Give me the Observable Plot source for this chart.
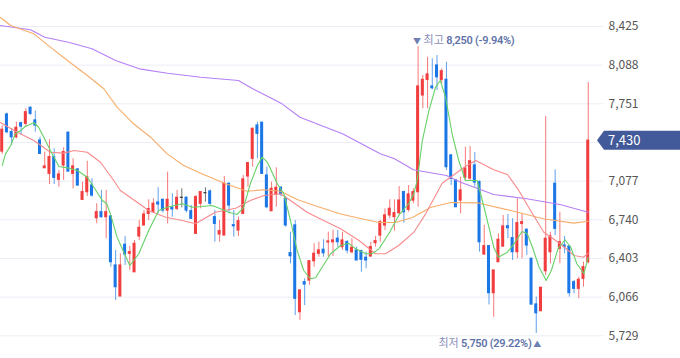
<!DOCTYPE html>
<html><head><meta charset="utf-8">
<script src="https://cdn.jsdelivr.net/npm/d3@7"></script>
<script src="https://cdn.jsdelivr.net/npm/@observablehq/plot@0.6"></script>
<style>
body{margin:0;background:#fff;}
#chart{width:680px;height:358px;}
</style></head><body><div id="chart"></div>
<script>
// ---- data ----
const opens = [7335,7658,7504,7460,7582,7577,7716,7606,7431,7190,
7141,7286,7089,7214,7499,7141,7179,6914,6981,7039,
6754,6806,6763,6769,6342,6072,6522,6444,6283,6595,
6691,6792,6806,6891,6914,6821,6845,6836,6932,6932,
6815,6618,6880,6972,6987,6763,6612,6603,7054,6693,
6647,6792,7118,7272,7562,7586,7126,6815,6961,7019,
6923,6449,6691,5935,6196,6211,6379,6444,6479,6543,
6545,6575,6502,6545,6458,6473,6467,6409,6420,6537,
6603,6691,6778,6763,6798,6981,6827,6908,6981,7824,
7960,7902,8085,7960,7960,7301,7083,6908,7109,7100,
7214,7068,6438,6510,6101,6371,6507,6684,6580,6458,
6705,6653,6400,6002,5944,6292,6458,7054,6487,6516,
6507,6196,6139,6226,6371];
const highs = [7560,7670,7536,7591,7591,7708,7725,7687,7460,7330,
7437,7359,7170,7368,7505,7272,7185,7068,7251,7098,
6880,6996,6996,6775,6473,6444,6595,6507,6560,6734,
6821,6914,6923,7019,6920,7155,6967,6996,7010,6940,
6865,6952,6985,7019,7000,6821,6734,7118,7060,6821,
6763,7126,7240,7540,7591,7590,7199,7068,7193,7030,
6943,6632,6734,6130,6226,6385,6531,6545,6566,6632,
6650,6647,6630,6560,6575,6502,6475,6458,6545,6595,
6734,6836,6914,6914,7030,6990,7039,7010,8250,7998,
8157,8143,8172,8056,8114,7310,7090,7112,7373,7379,
7327,7080,6691,6515,6300,6618,6778,6786,6749,6923,
6792,6660,6405,6066,6153,7641,6632,7176,6806,6595,
6516,6211,6240,6371,7937];
const lows = [7310,7490,7388,7446,7475,7547,7650,7504,7315,7190,
7048,7048,7024,7083,7155,7010,7035,6908,6943,6937,
6705,6755,6575,6327,6037,6072,6342,6298,6283,6560,
6691,6734,6806,6792,6800,6705,6763,6821,6845,6800,
6749,6618,6836,6894,6865,6545,6545,6603,6792,6589,
6595,6792,7024,7199,7272,7141,6836,6815,6850,6940,
6676,6357,5906,5863,5993,6168,6327,6414,6414,6414,
6420,6502,6473,6444,6444,6386,6283,6313,6420,6502,
6545,6647,6749,6641,6780,6711,6806,6880,6850,7708,
7708,7873,7867,7926,7170,7039,6850,6792,7083,7075,
7024,6458,6429,5998,5891,6371,6500,6575,6386,6400,
6400,6429,5993,5750,5940,6255,6357,6603,6357,6444,
6066,6095,6052,6153,6357];
const closes = [7525,7504,7460,7542,7553,7678,7664,7562,7315,7205,
7286,7106,7135,7330,7161,7205,7039,6981,7112,6952,
6806,6763,6806,6371,6153,6342,6438,6458,6531,6670,
6786,6833,6880,6874,6821,6914,6831,6932,6932,6821,
6749,6937,6981,6972,6880,6705,6641,7054,6865,6684,
6728,7092,7234,7533,7490,7141,6850,7010,7019,6961,
6691,6423,6052,6124,6176,6379,6444,6473,6449,6551,
6560,6545,6560,6473,6496,6386,6392,6386,6502,6554,
6719,6778,6836,6798,6908,6806,6961,6981,7902,7960,
8007,7887,7983,8035,7199,7097,6850,6996,7187,7250,
7065,6545,6510,6101,6298,6566,6682,6667,6458,6711,
6719,6516,6002,5926,6147,6575,6595,6662,6545,6502,
6101,6139,6217,6327,7430];

const ma5Day = [0,0.7,1.8,2.8,3.9,4.9,6.7,7.7,8.8,10.2,12,13.8,15.9,18,19.4,21.2,22.1,22.9,24.3,25,27,28.9,31,33.1,34.9,38.1,40.2,42.3,44.4,46.2,47.9,49.7,51.1,52.5,54,55,56.1,57.1,58.2,59.6,61,62.4,63.8,65.2,66.3,67.7,69.5,71.6,73.3,74.8,76.9,78.3,79.7,81.8,83.9,86,87.1,87.8,88.9,90.3,91.7,92.7,93.8,95.2,96.6,98,100.5,102.3,104,105,106.9,108.3,110,111.1,112.2,113.6,115.1,116.2,117.6,119.1,120.3,121.6,123.1,124];
const ma5Val = [7213,7315,7388,7490,7518,7553,7586,7547,7460,7344,7205,7193,7170,7111,7024,6908,6880,6792,6589,6525,6342,6444,6647,6821,6850,6880,6850,6856,6865,6836,6806,6786,6850,7054,7213,7286,7242,7155,7054,6967,6734,6473,6298,6226,6235,6327,6444,6516,6536,6487,6444,6444,6487,6618,6778,6880,6967,7083,7431,7693,7896,7954,7809,7490,7257,7083,7083,6792,6501,6414,6458,6531,6638,6618,6501,6327,6211,6298,6487,6566,6501,6357,6270,6414];

const ma20Day = [-0.4,3.2,6.7,10.2,13,15.2,18,20.8,23.6,25,27.5,31,34.6,38.1,40.9,42.7,45.1,49.4,52.5,55.4,58.9,61,64.5,68,71.6,75.5,79,81.1,83.9,87.1,89.6,93.1,98,100.2,104,106.9,109.3,111.8,114.6,118.1,121,123,124];
const ma20Val = [7588,7504,7431,7329,7321,7344,7329,7242,7083,6996,6923,6821,6763,6734,6705,6749,6806,6841,6908,6952,6967,6908,6806,6734,6662,6560,6444,6444,6516,6632,6792,7059,7205,7257,7176,7135,6996,6821,6632,6531,6429,6414,6449];

const ma60Day = [-0.4,1.8,6.7,10.2,13.8,18,21.5,24.3,27.8,31.4,34.9,38.4,42,47.3,51.8,55.4,58.9,62.4,66.7,71.6,75.8,79.7,83.2,86.8,90.6,94.9,100.5,107.6,114.5,120.9,124];
const ma60Val = [8503,8434,8361,8245,8129,7998,7882,7722,7577,7460,7315,7213,7146,7054,6989,7002,6989,6917,6856,6791,6752,6717,6717,6760,6847,6891,6888,6821,6749,6711,6728];

const ma120Day = [-0.4,6,9,14,19,24,29,35,42,50,53,59,63,72,80,83,87,94,97,104,111,118,124];
const ma120Val = [8434,8396,8332,8288,8231,8129,8056,8018,7983,7954,7882,7757,7634,7490,7315,7272,7176,7126,7068,6961,6923,6874,6806];

const yTicks = [5729,6066,6403,6740,7077,7414,7751,8088,8425];
const maxLabelText = "최고";
const minLabelText = "최저";

// ---- build tables ----
const candles = opens.map((o, i) => ({i, o, h: highs[i], l: lows[i], c: closes[i],
  lo: Math.min(o, closes[i]), hi: Math.max(o, closes[i])}));
const up = candles.filter(d => d.c > d.o);
const down = candles.filter(d => d.c < d.o);
const flat = candles.filter(d => d.c === d.o);
const toLine = (days, vals) => days.map((d, k) => ({d, v: vals[k]}));
const last = candles[candles.length - 1];
const maxC = candles.reduce((a, b) => b.h > a.h ? b : a);
const minC = candles.reduce((a, b) => b.l < a.l ? b : a);

const UP = "#f23d3f", DOWN = "#1b76e6", FLAT = "#333";
const candleMarks = (data, color) => [
  Plot.ruleX(data, {x: "i", y1: "l", y2: "h", stroke: color, strokeOpacity: 0.7, strokeWidth: 1}),
  Plot.rect(data, {x1: d => d.i - 0.32, x2: d => d.i + 0.32, y1: "lo", y2: "hi", fill: color, insetTop: -0.6, insetBottom: -0.6})
];
const fmt = d3.format(",");

const chart = Plot.plot({
  width: 680, height: 358,
  marginLeft: 0, marginRight: 77, marginTop: 26, marginBottom: 22.7,
  style: {fontFamily: "'Noto Sans CJK KR','Noto Sans',sans-serif", fontSize: "12px", color: "#555", background: "#fff", overflow: "visible"},
  x: {domain: [-0.36, 127.23], axis: null},
  y: {domain: [5729, 8425], axis: null},
  marks: [
    Plot.ruleY(yTicks, {stroke: "#eceef7", strokeWidth: 1}),
    Plot.axisY({ticks: yTicks, anchor: "right", tickSize: 0, tickPadding: 5, tickFormat: fmt, fill: "#555", fontSize: 12, label: null}),
    ...candleMarks(up, UP),
    ...candleMarks(down, DOWN),
    ...candleMarks(flat, FLAT),
    Plot.line(toLine(ma120Day, ma120Val), {x: "d", y: "v", stroke: "#b57ff7", strokeWidth: 1.1}),
    Plot.line(toLine(ma60Day, ma60Val), {x: "d", y: "v", stroke: "#f7ad6a", strokeWidth: 1.1}),
    Plot.line(toLine(ma20Day, ma20Val), {x: "d", y: "v", stroke: "#f78a8c", strokeWidth: 1.1}),
    Plot.line(toLine(ma5Day, ma5Val), {x: "d", y: "v", stroke: "#66d166", strokeWidth: 1.1}),
    Plot.text([maxC], {x: "i", y: "h", text: () => "MAXLBL", textAnchor: "start", dx: -5, dy: -6, lineAnchor: "middle"}),
    Plot.text([minC], {x: "i", y: "l", text: () => "MINLBL", textAnchor: "end", dx: 5, dy: 9.5, lineAnchor: "middle"})
  ]
});

const svg = d3.select(chart);
const pct = v => ((last.c - v) / v * 100).toFixed(2) + "%";
const numStyle = t => t.attr("font-size", 11).attr("font-weight", 600).attr("font-family", "Roboto, 'Noto Sans', sans-serif")
  .attr("letter-spacing", "-0.3").attr("fill", "#6072a8");
svg.selectAll("text").each(function() {
  const t = d3.select(this);
  const s = t.text();
  if (s === "MAXLBL") {
    t.text(null);
    t.append("tspan").attr("font-size", 8).attr("fill", "#6f7fb3").text("▼");
    t.append("tspan").attr("font-size", 11).attr("fill", "#8790b8").text(" " + maxLabelText + " ");
    numStyle(t.append("tspan")).text(fmt(maxC.h) + " (" + pct(maxC.h) + ")");
  } else if (s === "MINLBL") {
    t.text(null);
    t.append("tspan").attr("font-size", 11).attr("fill", "#8790b8").text(minLabelText + " ");
    numStyle(t.append("tspan")).text(fmt(minC.l) + " (" + pct(minC.l) + ")");
    t.append("tspan").attr("font-size", 8).attr("fill", "#6f7fb3").text(" ▲");
  }
});

// current price tag (covers the 7,414 tick label, as in the reference)
const yPos = chart.scale("y").apply(last.c);
const tag = svg.append("g");
tag.append("path")
  .attr("d", `M597,${yPos} L604,${yPos - 9.5} L680,${yPos - 9.5} L680,${yPos + 9.5} L604,${yPos + 9.5} Z`)
  .attr("fill", "#42599a");
tag.append("text").attr("x", 608).attr("y", yPos).attr("dy", "0.35em").attr("text-anchor", "start")
  .attr("fill", "#fff").attr("font-size", 13).text(fmt(last.c));
// hide the covered tick label text so it does not sit under the tag
svg.selectAll("text").filter(function() { return d3.select(this).text() === fmt(7414); }).attr("visibility", "hidden");

document.getElementById("chart").appendChild(chart);
</script>
</body></html>
